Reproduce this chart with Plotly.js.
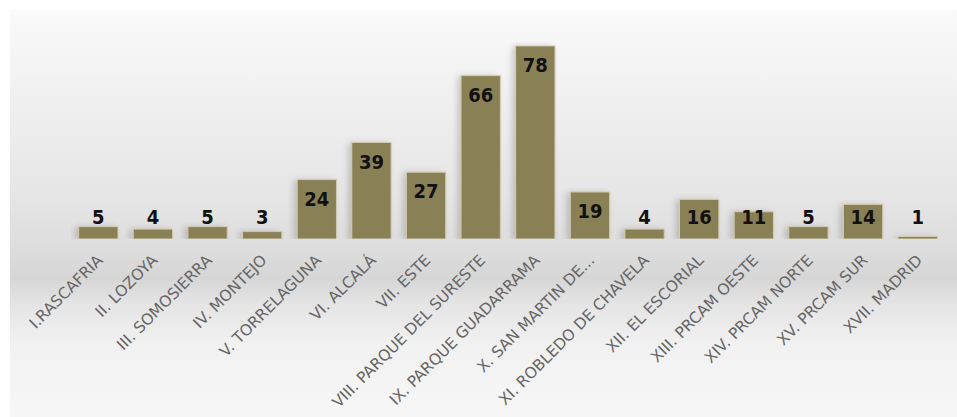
<!DOCTYPE html>
<html>
<head>
<meta charset="utf-8">
<script src="https://cdn.plot.ly/plotly-3.0.1.min.js"></script>
<style>
  html, body { margin: 0; padding: 0; background: #ffffff; }
  #wrap { position: relative; width: 957px; height: 417px; overflow: hidden; background: #ffffff; }
  #panel { position: absolute; left: 10px; top: 10px; right: 0; bottom: 0;
    background: linear-gradient(to bottom, #fafafa 0%, #f1f1f1 20%, #e6e6e6 45%, #dcdcdc 60%, #d6d6d6 66%, #e4e4e4 72%, #f1f1f1 82%, #f7f7f7 100%); }
  #chart { position: absolute; left: 0; top: 0; width: 957px; height: 417px; }
  #chart .trace.bars .point path { filter: drop-shadow(-3px 1px 3px rgba(0,0,0,0.18)); }
</style>
</head>
<body>
<div id="wrap"><div id="panel"></div><div id="chart"></div></div>
<script>
const categories = [
  "I.RASCAFRIA", "II. LOZOYA", "III. SOMOSIERRA", "IV. MONTEJO", "V. TORRELAGUNA",
  "VI. ALCALÁ", "VII. ESTE", "VIII. PARQUE DEL SURESTE", "IX. PARQUE GUADARRAMA",
  "X. SAN MARTIN DE...", "XI. ROBLEDO DE CHAVELA", "XII. EL ESCORIAL",
  "XIII. PRCAM OESTE", "XIV. PRCAM NORTE", "XV. PRCAM SUR", "XVII. MADRID"
];
const values = [5, 4, 5, 3, 24, 39, 27, 66, 78, 19, 4, 16, 11, 5, 14, 1];

// value labels: inside the bar near its top, or just above short bars
const labelY = values.map(v => Math.max(v - 8.5, 8.1));

const bars = {
  type: "bar",
  x: categories,
  y: values,
  marker: { color: "#8a8056", line: { color: "#d2cbad", width: 1 } },
  hoverinfo: "none"
};
const labels = {
  type: "scatter",
  mode: "text",
  x: categories,
  y: labelY,
  text: values.map(String),
  textposition: "middle center",
  textfont: { family: "DejaVu Sans Condensed, sans-serif", size: 20, color: "#111111", weight: "bold" },
  hoverinfo: "none",
  cliponaxis: false
};

const layout = {
  width: 957, height: 417,
  margin: { l: 71, r: 12, t: 41, b: 178 },
  paper_bgcolor: "rgba(0,0,0,0)",
  plot_bgcolor: "rgba(0,0,0,0)",
  showlegend: false,
  bargap: 0.28,
  xaxis: {
    type: "category",
    automargin: false,
    autorange: false,
    range: [-0.5, categories.length - 0.5],
    tickangle: -45,
    showgrid: false, zeroline: false, showline: false, ticks: "",
    tickfont: { family: "DejaVu Sans, sans-serif", size: 15.5, color: "#666666" },
    ticklabelstandoff: 8
  },
  yaxis: { range: [0, 80], visible: false, showgrid: false, zeroline: false, fixedrange: true, automargin: false }
};

Plotly.newPlot("chart", [bars, labels], layout, { displayModeBar: false, staticPlot: true });
</script>
</body>
</html>
